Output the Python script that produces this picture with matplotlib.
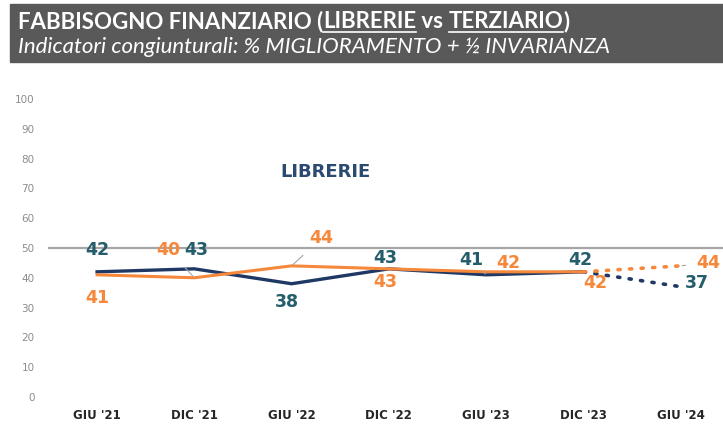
import numpy as np
import matplotlib.pyplot as plt
from matplotlib.patches import Rectangle

# data
periods = ["GIU '21", "DIC '21", "GIU '22", "DIC '22", "GIU '23", "DIC '23", "GIU '24"]
librerie = [42, 43, 38, 43, 41, 42, 37]
terziario = [41, 40, 44, 43, 42, 42, 44]

navy = '#1F3864'
navy_lbl = '#255E6B'
orange = '#F5883A'
grey = '#A6A6A6'

fig = plt.figure(figsize=(7.23, 4.25), dpi=100)
ax = fig.add_axes([0.067, 0.066, 0.935, 0.701])
x = np.arange(len(periods))

# solid part, dotted forecast
ax.plot(x[:-1], librerie[:-1], color=navy, lw=2.4, solid_joinstyle='miter', zorder=3)
ax.plot(x[-2:], librerie[-2:], color=navy, lw=2.6, ls=(0, (0.6, 2.6)), dash_capstyle='round', zorder=3)
ax.plot(x[:-1], terziario[:-1], color=orange, lw=2.2, solid_joinstyle='miter', zorder=4)
ax.plot(x[-2:], terziario[-2:], color=orange, lw=2.6, ls=(0, (0.6, 2.6)), dash_capstyle='round', zorder=4)

ax.axhline(50, color=grey, lw=1.6, zorder=1)

ax.set_xlim(-0.5, 6.45)
ax.set_ylim(0, 100)
ax.set_xticks(x)
ax.set_xticklabels(periods, fontsize=8.5, fontweight='bold', color='#262626')
ax.set_yticks(range(0, 101, 10))
ax.tick_params(axis='y', labelsize=7.5, labelcolor='#8C8C8C', length=0, pad=10)
ax.tick_params(axis='x', length=0, pad=9)
for s in ax.spines.values():
    s.set_visible(False)

# label offsets in pixels (dx, dy) and whether a leader line is drawn
nav_off = [(0, 22), (2, 19), (-5, -18), (-4, 11), (-15, 15), (-3, 12), (16, 4)]
org_off = [(0, -23), (-26, 28), (30, 28), (-4, -13), (22, 9), (12, -11), (28, 3)]
nav_lead = [False, False, False, False, True, False, False]
org_lead = [False, True, True, False, False, False, True]

for i in range(len(periods)):
    for vals, offs, leads, col in ((librerie, nav_off, nav_lead, navy_lbl),
                                  (terziario, org_off, org_lead, orange)):
        ap = dict(arrowstyle='-', color='#A6A6A6', lw=0.8, shrinkA=6, shrinkB=1) if leads[i] else None
        ax.annotate(str(vals[i]), (x[i], vals[i]), xytext=offs[i], textcoords='offset pixels',
                    ha='center', va='center', fontsize=12.5, fontweight='bold', color=col,
                    arrowprops=ap, zorder=5)

fig.text(325 / 723, 1 - 172 / 425, 'LIBRERIE', ha='center', va='center',
         fontsize=13, fontweight='bold', color='#2B4A72')

# header banner
fig.patches.append(Rectangle((10 / 723, 1 - 62 / 425), 713 / 723, 58 / 425,
                             transform=fig.transFigure, color='#595959', zorder=0))

parts = ['FABBISOGNO FINANZIARIO (', 'LIBRERIE', ' vs ', 'TERZIARIO', ')']
under = [False, True, False, True, False]
fig.canvas.draw()
r = fig.canvas.get_renderer()
xp = 18
yc = 1 - 22 / 425
for p, u in zip(parts, under):
    t = fig.text(xp / 723, yc, p, ha='left', va='center', fontsize=16, fontweight='bold',
                 color='white', family='Lato')
    bb = t.get_window_extent(r)
    if u:
        yl = (bb.y0 + 1) / 425
        fig.add_artist(plt.Line2D([bb.x0 / 723, bb.x1 / 723], [yl, yl], color='white',
                                  lw=1.2, transform=fig.transFigure))
    xp = bb.x1

fig.text(18 / 723, 1 - 47 / 425, 'Indicatori congiunturali: % MIGLIORAMENTO + ½ INVARIANZA',
         ha='left', va='center', fontsize=16, style='italic', color='white', family='Lato')

fig.savefig('out.png', dpi=100)
